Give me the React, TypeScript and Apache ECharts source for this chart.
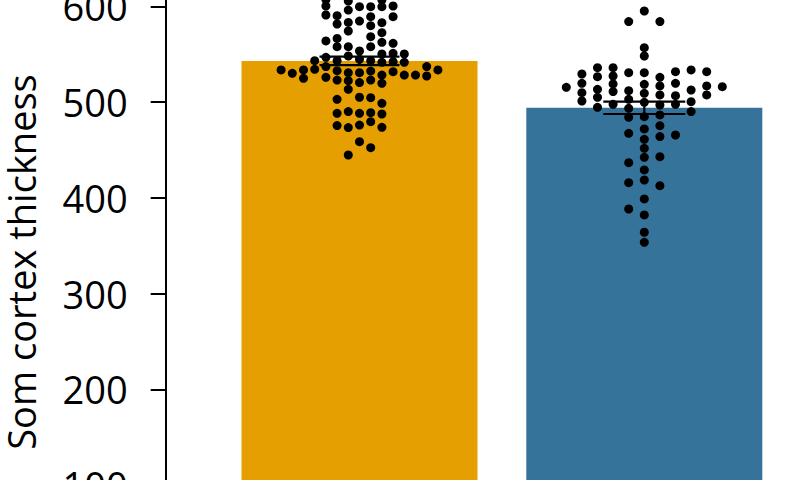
import React, { useEffect, useRef } from "react";
import * as echarts from "echarts";

// Groups (x positions 1 and 2 on the hidden value axis)
const groups = ["Group A", "Group B"];
const groupX = [1, 2];
const barMeans = [543, 494];
const barSems = [4.4, 6.5];
const barColors = ["#E69F00", "#35739B"];

// Beeswarm dots: [column offset index, value]
const orangeDots: [number, number][] = [
  [-3, 607], [-1, 605.5], [2, 606.6],
  [-3, 600.3], [-1, 596.1], [0, 599.6], [1, 599.6], [2, 599.6], [3, 600.3],
  [-3, 590.9], [-2, 590.2], [1, 589.2], [3, 589.2],
  [-2, 581.5], [-1, 583.2], [0, 584.6], [1, 579.8], [2, 582.9],
  [-1, 574.2], [2, 572.5],
  [1, 568.3],
  [-3, 563.8], [-2, 566.5], [2, 562.4], [3, 561.3],
  [-2, 557.8], [-1, 557.8], [1, 557.8],
  [0, 553.3],
  [-1, 548.1], [2, 550.2], [3, 550.9], [4, 550.2],
  [-4, 543.2], [-3, 546.7], [-2, 543.2], [0, 544.6], [1, 543.2], [2, 541.5], [3, 542.2], [4, 541.5],
  [-7, 533.5], [-6, 530.0], [-5, 533.5], [-5, 524.8], [-4, 534.2], [-3, 537.0], [-3, 525.8],
  [-2, 532.8], [-2, 523.0], [-1, 530.7], [-1, 522.3], [-1, 513.3], [0, 530.7], [0, 520.3],
  [1, 532.4], [1, 523.0], [2, 528.2], [2, 519.6], [3, 531.7], [4, 528.2], [5, 528.2],
  [6, 537.0], [6, 527.2], [7, 533.5],
  [-2, 502.9], [0, 505.0], [1, 504.6], [2, 498.7],
  [-2, 488.2], [-1, 490.0], [0, 488.2], [1, 488.9], [2, 487.5],
  [-2, 475.4], [-1, 473.3], [0, 476.0], [1, 479.5], [2, 473.6],
  [0, 458.6], [1, 452.4], [-1, 444.7],
];

const blueDots: [number, number][] = [
  [0, 595.1], [0, 556.8], [0, 548.1], [0, 530.7], [0, 518.5], [0, 509.1], [0, 499.7], [0, 484.7],
  [0, 471.9], [0, 461.1], [0, 451.7], [0, 442.3], [0, 429.1], [0, 418.6], [0, 398.8], [0, 382.1],
  [0, 364.0], [0, 353.5],
  [-1, 584.0], [-1, 530.7], [-1, 511.9], [-1, 502.9], [-1, 493.4], [-1, 484.1], [-1, 467.3],
  [-1, 436.7], [-1, 415.8], [-1, 388.3],
  [1, 584.0], [1, 525.8], [1, 516.8], [1, 507.4], [1, 496.9], [1, 486.5], [1, 475.3],
  [1, 463.9], [1, 443.0], [1, 412.7],
  [-2, 535.9], [-2, 527.2], [-2, 518.9], [-2, 510.9], [-2, 497.6],
  [2, 531.7], [2, 519.6], [2, 506.7], [2, 497.6], [2, 465.6],
  [-3, 535.9], [-3, 526.5], [-3, 513.3], [-3, 504.9], [-3, 494.5],
  [3, 533.5], [3, 512.6], [3, 500.4], [3, 490.0],
  [-4, 529.3], [-4, 519.6], [-4, 509.8], [-4, 501.1],
  [4, 531.7], [4, 516.8], [4, 507.4],
  [-5, 515.4],
  [5, 516.1],
];

const yTicks = [0, 100, 200, 300, 400, 500, 600, 700];
const yLabel = "Som cortex thickness";

// layout constants (pixels)
const OFFSET = 100; // chart canvas extends this far above the visible page
const CANVAS_H = 700;
const PX_PER_X = 284.8;
const GRID_LEFT = 165.7;
const PX_PER_Y = 0.9575;
const Y600_PX = 6.3;
const ORANGE_STEP = 11.2 / PX_PER_X;
const BLUE_STEP = 15.6 / PX_PER_X;
const CAP_HALF = [40, 41];

export default function App() {
  const ref = useRef<HTMLDivElement>(null);
  useEffect(() => {
    if (!ref.current) return;
    const chart = echarts.init(ref.current, undefined, { renderer: "svg" });
    const yMax = yTicks[yTicks.length - 1];
    const gridTop = OFFSET + Y600_PX - (yMax - 600) * PX_PER_Y;
    const gridHeight = yMax * PX_PER_Y;
    const xMin = groupX[0] - (359.5 - GRID_LEFT) / PX_PER_X;
    const xMax = groupX[0] + (800 - 359.5) / PX_PER_X;

    const orangeData = orangeDots.map(([c, v]) => [groupX[0] + c * ORANGE_STEP, v]);
    const blueData = blueDots.map(([c, v]) => [groupX[1] + c * BLUE_STEP, v]);

    chart.setOption({
      animation: false,
      grid: {
        left: GRID_LEFT,
        top: gridTop,
        width: 800 - GRID_LEFT,
        height: gridHeight,
        containLabel: false,
        outerBoundsMode: "none",
      },
      xAxis: {
        type: "value",
        min: xMin,
        max: xMax,
        show: false,
      },
      yAxis: {
        type: "value",
        min: yTicks[0],
        max: yMax,
        interval: 100,
        axisLine: { show: true, lineStyle: { color: "#000", width: 2 } },
        axisTick: { show: true, length: 15, lineStyle: { color: "#000", width: 2 } },
        axisLabel: {
          margin: 38,
          color: "#000",
          fontSize: 38,
          fontFamily: "Open Sans",
        },
        splitLine: { show: false },
      },
      graphic: [
        {
          type: "text",
          x: 20.5,
          y: OFFSET + 262,
          rotation: Math.PI / 2,
          style: {
            text: yLabel,
            fontSize: 38,
            fontFamily: "Open Sans",
            fill: "#000",
            textAlign: "center",
            textVerticalAlign: "middle",
          },
        },
      ],
      series: [
        {
          type: "bar",
          name: "bars",
          barWidth: 236,
          data: groupX.map((x, i) => ({
            value: [x, barMeans[i]],
            name: groups[i],
            itemStyle: { color: barColors[i] },
          })),
          z: 1,
        },
        {
          type: "custom",
          name: "error",
          z: 3,
          data: groupX.map((x, i) => [x, barMeans[i], barSems[i], i]),
          renderItem: (params: any, api: any) => {
            const x = api.value(0);
            const m = api.value(1);
            const s = api.value(2);
            const idx = api.value(3);
            const hi = api.coord([x, m + s]);
            const lo = api.coord([x, m - s]);
            const hw = CAP_HALF[idx];
            const st = { stroke: "#000", lineWidth: 2.2 };
            return {
              type: "group",
              children: [
                { type: "line", shape: { x1: hi[0], y1: hi[1], x2: lo[0], y2: lo[1] }, style: st },
                { type: "line", shape: { x1: hi[0] - hw, y1: hi[1], x2: hi[0] + hw, y2: hi[1] }, style: st },
                { type: "line", shape: { x1: lo[0] - hw, y1: lo[1], x2: lo[0] + hw, y2: lo[1] }, style: st },
              ],
            };
          },
        },
        {
          type: "scatter",
          name: "orangeDots",
          symbolSize: 9,
          itemStyle: { color: "#000", opacity: 1 },
          data: orangeData,
          z: 2,
        },
        {
          type: "scatter",
          name: "blueDots",
          symbolSize: 9,
          itemStyle: { color: "#000", opacity: 1 },
          data: blueData,
          z: 2,
        },
      ],
    });
    return () => chart.dispose();
  }, []);
  return (
    <div style={{ position: "fixed", left: 0, top: 0, width: 800, height: 480, overflow: "hidden", background: "#fff" }}>
      <div
        ref={ref}
        style={{ position: "absolute", left: 0, top: -OFFSET, width: 800, height: CANVAS_H }}
      />
    </div>
  );
}
